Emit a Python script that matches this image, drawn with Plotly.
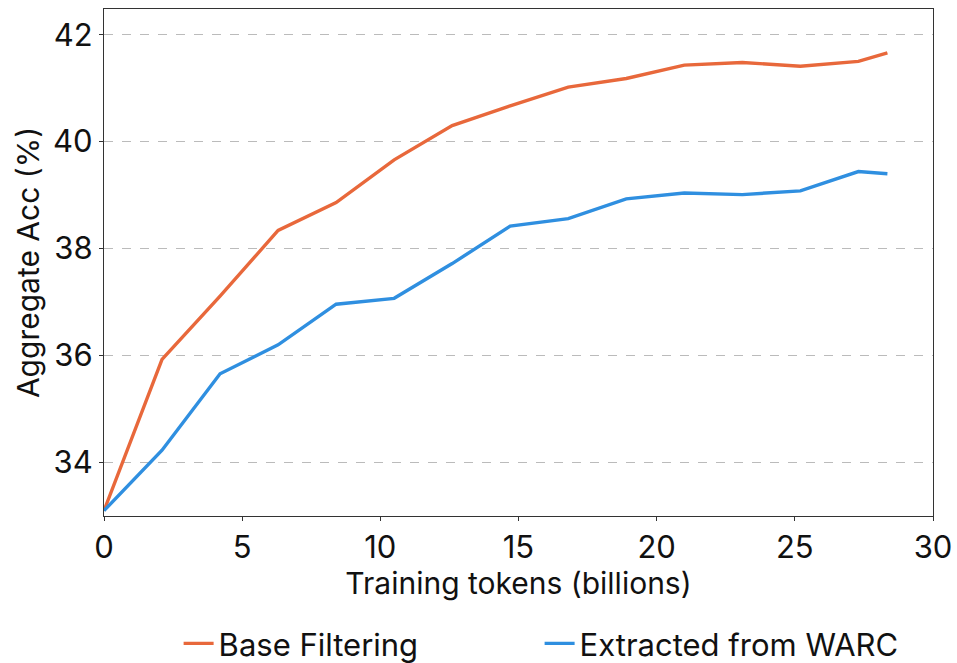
import plotly.graph_objects as go

# Training tokens seen (billions) at each checkpoint
tokens = [0, 2.1, 4.2, 6.3, 8.4, 10.5, 12.6, 14.7, 16.8, 18.9, 21.0, 23.1, 25.2, 27.3, 28.35]

# Aggregate accuracy (%) per checkpoint
base_filtering = [33.10, 35.93, 37.11, 38.34, 38.86, 39.66, 40.30, 40.67, 41.02, 41.18,
                  41.43, 41.48, 41.41, 41.50, 41.66]
extracted_warc = [33.10, 34.23, 35.66, 36.20, 36.96, 37.07, 37.72, 38.42, 38.56, 38.93,
                  39.04, 39.01, 39.08, 39.44, 39.40]

x_ticks = [0, 5, 10, 15, 20, 25, 30]
y_ticks = [34, 36, 38, 40, 42]

FONT = "Inter, Roboto, 'DejaVu Sans', sans-serif"

fig = go.Figure()
fig.add_trace(go.Scatter(x=tokens, y=base_filtering, mode="lines", name="Base Filtering",
                         line=dict(color="#E8683B", width=3.4)))
fig.add_trace(go.Scatter(x=tokens, y=extracted_warc, mode="lines", name="Extracted from WARC",
                         line=dict(color="#2F8FE0", width=3.4)))

axis_common = dict(showline=True, linecolor="#333333", linewidth=1.2, mirror=True,
                   ticks="outside", ticklen=4, tickwidth=1.2, tickcolor="#333333",
                   zeroline=False, tickfont=dict(size=31, color="#111111", family=FONT))

fig.update_xaxes(range=[0, 30], tickvals=x_ticks, showgrid=False,
                 title=dict(text="Training tokens (billions)", standoff=3,
                            font=dict(size=30, color="#111111", family=FONT)),
                 **axis_common)
fig.update_yaxes(range=[33.0, 42.48], tickvals=y_ticks, showgrid=True,
                 gridcolor="#BBBBBB", griddash="dash", gridwidth=1,
                 title=dict(text="Aggregate Acc (%)", standoff=4,
                            font=dict(size=30, color="#111111", family=FONT)),
                 **axis_common)

fig.update_layout(
    width=957, height=663,
    margin=dict(l=104, r=24, t=9, b=147, autoexpand=False),
    plot_bgcolor="white", paper_bgcolor="white",
    font=dict(family=FONT, color="#111111"),
    legend=dict(orientation="h", x=0.09, xanchor="left", y=-0.252, yanchor="middle",
                font=dict(size=31, family=FONT), entrywidth=316, entrywidthmode="pixels",
                bgcolor="rgba(0,0,0,0)"),
    showlegend=True,
)

fig.write_html("out.html")
